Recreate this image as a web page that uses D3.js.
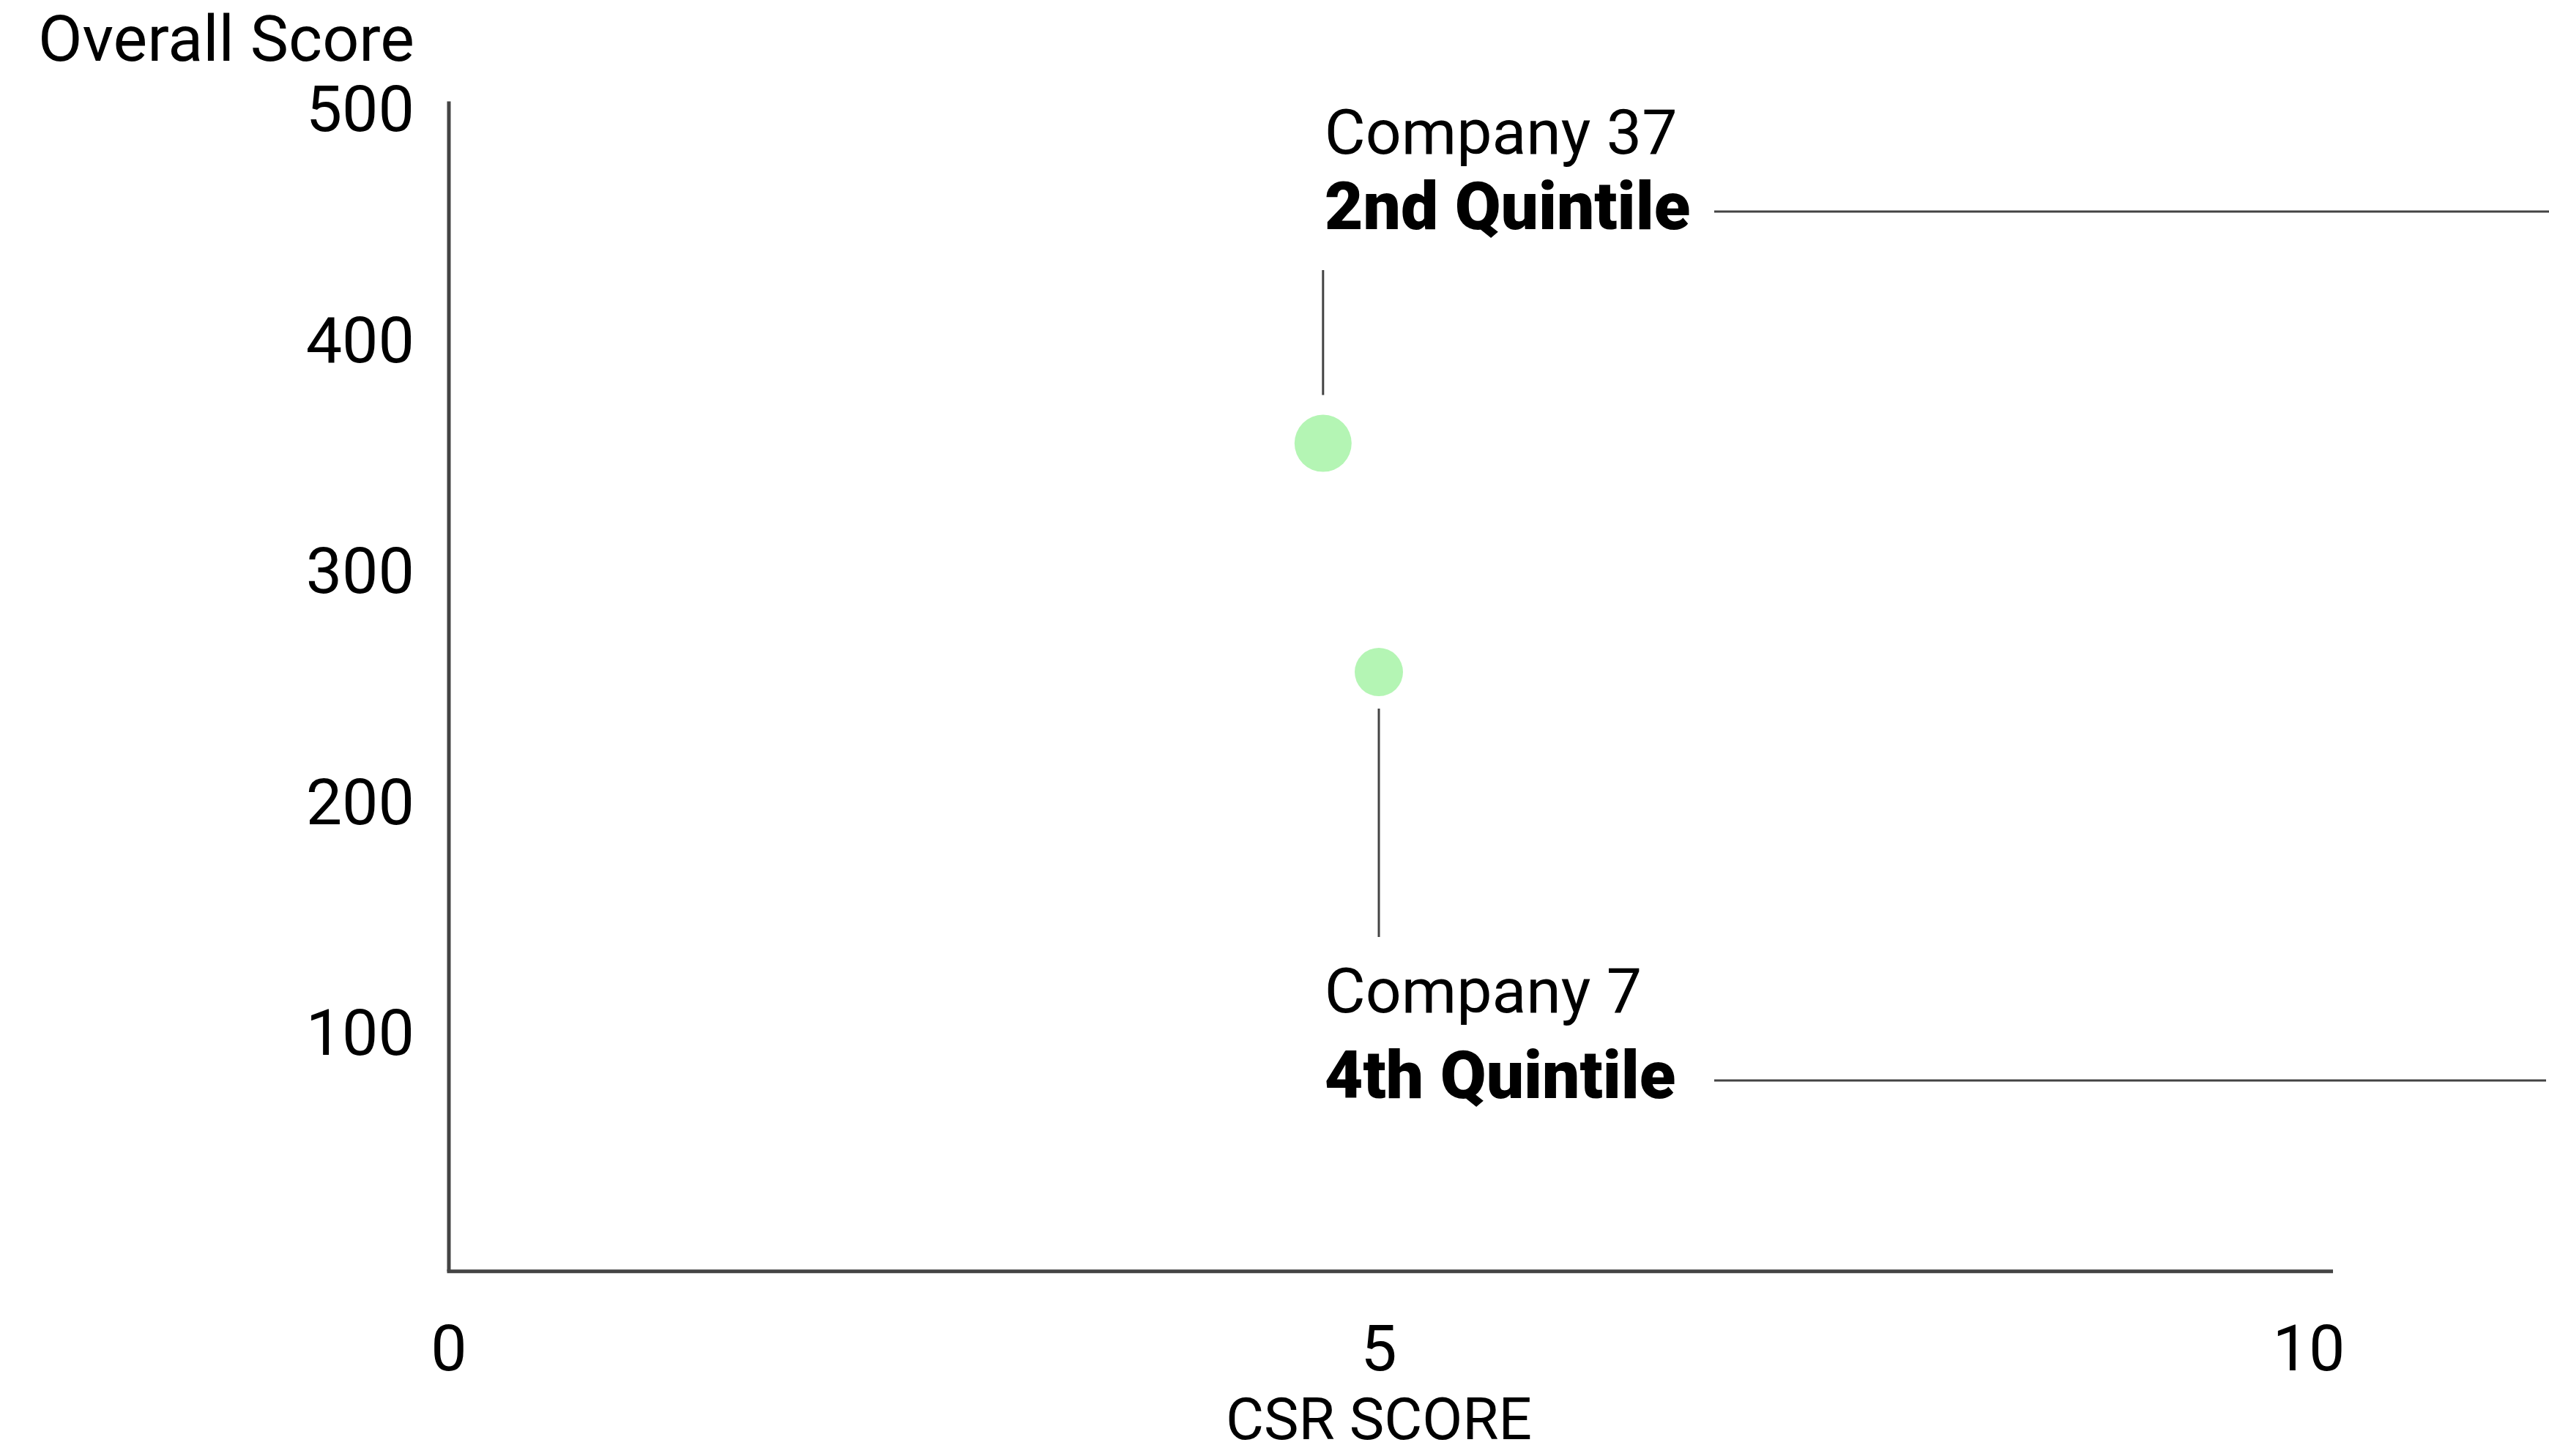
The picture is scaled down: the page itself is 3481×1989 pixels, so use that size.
<!DOCTYPE html>
<html>
<head>
<meta charset="utf-8">
<script src="https://cdn.jsdelivr.net/npm/d3@7"></script>
<style>
  body { margin: 0; background: #fff; }
  svg { display: block; }
  text { font-family: Roboto, "Open Sans", sans-serif; fill: #000; }
</style>
</head>
<body>
<svg id="chart" width="3481" height="1989"></svg>
<script>
// CSR score vs overall score, two highlighted companies.

var companies = ["Company 37", "Company 7"];
var quintiles = ["2nd Quintile", "4th Quintile"];
var csrScores = [4.70, 5.0];
var overallScores = [355, 256];
var yTicks = [100, 200, 300, 400, 500];
var xTicks = [0, 5, 10];

var svg = d3.select("#chart");

// Scales
var x = d3.scaleLinear().domain([0, 10]).range([613, 3153]);
var y = d3.scaleLinear().domain([0, 500]).range([1726, 148]);

var axisColor = "#444";
var dotColor = "#b4f5b4";

// Y axis line
svg.append("line")
    .attr("x1", x(0)).attr("x2", x(0))
    .attr("y1", y(503)).attr("y2", y(-3.4))
    .attr("stroke", axisColor).attr("stroke-width", 5);

// X axis line
svg.append("line")
    .attr("x1", x(0) - 2.5).attr("x2", x(10.13))
    .attr("y1", y(-3.4)).attr("y2", y(-3.4))
    .attr("stroke", axisColor).attr("stroke-width", 5);

// Y tick labels
svg.selectAll(".yTick").data(yTicks).enter().append("text")
    .attr("class", "yTick")
    .attr("x", 566).attr("y", d => y(d) + 31)
    .attr("text-anchor", "end")
    .attr("font-size", 88)
    .text(d => d);

// Y axis title
svg.append("text")
    .attr("x", 566).attr("y", 83)
    .attr("text-anchor", "end")
    .attr("font-size", 88)
    .text("Overall Score");

// X tick labels
svg.selectAll(".xTick").data(xTicks).enter().append("text")
    .attr("class", "xTick")
    .attr("x", d => x(d)).attr("y", 1872)
    .attr("text-anchor", "middle")
    .attr("font-size", 88)
    .text(d => d);

// X axis title
svg.append("text")
    .attr("x", x(5)).attr("y", 1966)
    .attr("text-anchor", "middle")
    .attr("font-size", 80)
    .text("CSR SCORE");

// Dots
var radii = [39, 33];
svg.selectAll(".dot").data(companies).enter().append("circle")
    .attr("class", "dot")
    .attr("cx", (d, i) => x(csrScores[i]))
    .attr("cy", (d, i) => y(overallScores[i]))
    .attr("r", (d, i) => radii[i])
    .attr("fill", dotColor);

// Annotations: label block position, leader line end points.
var labelX = x(csrScores[0]) + 2;
var notes = [
    { nameY: 210, quintY: 313, ruleY: 289, leadTop: 369, leadBottom: y(overallScores[0]) - radii[0] - 27, ruleEnd: 3481 },
    { nameY: 1383, quintY: 1500, ruleY: 1476, leadTop: y(overallScores[1]) + radii[1] + 17, leadBottom: 1280, ruleEnd: 3477 }
];

notes.forEach(function (n, i) {
    svg.append("text")
        .attr("x", labelX).attr("y", n.nameY)
        .attr("font-size", 86)
        .text(companies[i]);
    svg.append("text")
        .attr("x", labelX).attr("y", n.quintY)
        .attr("font-size", 91).attr("font-weight", 900)
        .text(quintiles[i]);
    // vertical leader
    svg.append("line")
        .attr("x1", x(csrScores[i])).attr("x2", x(csrScores[i]))
        .attr("y1", n.leadTop).attr("y2", n.leadBottom)
        .attr("stroke", axisColor).attr("stroke-width", 3);
    // horizontal rule
    svg.append("line")
        .attr("x1", 2341).attr("x2", n.ruleEnd)
        .attr("y1", n.ruleY).attr("y2", n.ruleY)
        .attr("stroke", axisColor).attr("stroke-width", 3);
});
</script>
</body>
</html>
